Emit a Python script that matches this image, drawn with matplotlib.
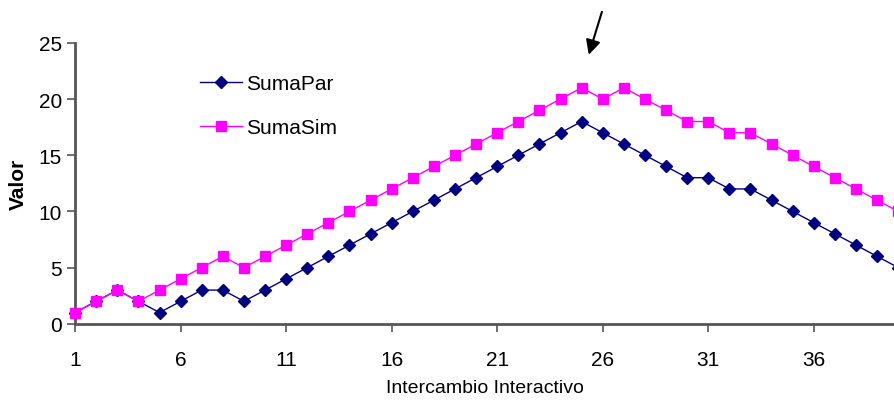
import matplotlib.pyplot as plt

plt.rcParams['font.family'] = ['Liberation Sans', 'DejaVu Sans']

x = list(range(1, 41))
suma_par = [1, 2, 3, 2, 1, 2, 3, 3, 2, 3, 4, 5, 6, 7, 8, 9, 10, 11, 12, 13,
            14, 15, 16, 17, 18, 17, 16, 15, 14, 13, 13, 12, 12, 11, 10, 9, 8, 7, 6, 5]
suma_sim = [1, 2, 3, 2, 3, 4, 5, 6, 5, 6, 7, 8, 9, 10, 11, 12, 13, 14, 15, 16,
            17, 18, 19, 20, 21, 20, 21, 20, 19, 18, 18, 17, 17, 16, 15, 14, 13, 12, 11, 10]
xticks = [1, 6, 11, 16, 21, 26, 31, 36]
yticks = [0, 5, 10, 15, 20, 25]

fig = plt.figure(figsize=(8.94, 4.06), dpi=100)
ax = fig.add_axes([0.084, 0.2, 0.916, 0.692])

# SumaSim sits on top of SumaPar where they overlap (first points)
ax.plot(x, suma_par, color='#000080', marker='D', markersize=6, linewidth=1,
        label='SumaPar', clip_on=False, zorder=2)
ax.plot(x, suma_sim, color='#FF00FF', marker='s', markersize=6.5, linewidth=1,
        label='SumaSim', clip_on=False, zorder=3)

ax.set_xlim(1, 39.8)
ax.set_ylim(0, 25)
ax.set_xticks(xticks)
ax.set_yticks(yticks)
ax.tick_params(labelsize=15, color='#555555', length=6, width=1.2)
ax.tick_params(axis='x', pad=13)
for s in ['top', 'right']:
    ax.spines[s].set_visible(False)
for s in ['left', 'bottom']:
    ax.spines[s].set_color('#555555')
    ax.spines[s].set_linewidth(2)

ax.set_xlabel('Intercambio Interactivo', fontsize=14, labelpad=7)
ax.set_ylabel('Valor', fontsize=15, fontweight='bold', labelpad=8)

ax.legend(loc='upper left', bbox_to_anchor=(0.13, 0.955), frameon=False,
          fontsize=15, handlelength=2.0, labelspacing=1.2, handletextpad=0.2)

ax.annotate('', xy=(25.3, 23.7), xytext=(26.0, 28.0), annotation_clip=False,
            arrowprops=dict(arrowstyle='-|>', color='black', lw=1.5,
                            mutation_scale=22))

fig.savefig('out.png', dpi=100)
